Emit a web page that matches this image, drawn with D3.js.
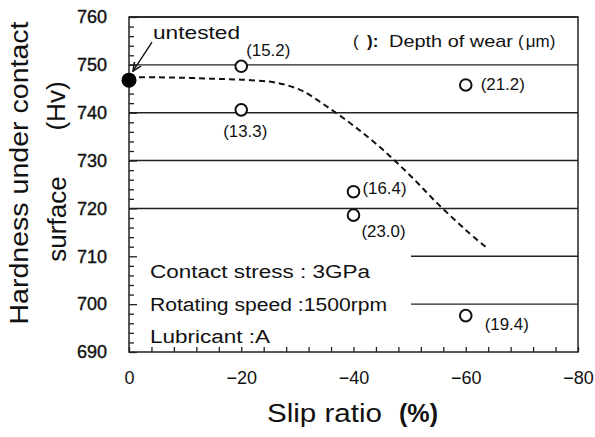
<!DOCTYPE html>
<html>
<head>
<meta charset="utf-8">
<script src="https://cdn.jsdelivr.net/npm/d3@7/dist/d3.min.js"></script>
<style>
  html, body { margin: 0; padding: 0; background: #fff; }
  svg { display: block; font-family: "Liberation Sans", Arial, sans-serif; }
</style>
</head>
<body>
<svg id="chart" width="595" height="437"></svg>
<script>
// ---------------- data ----------------
const xTickValues = [0, -20, -40, -60, -80];
const yTickValues = [690, 700, 710, 720, 730, 740, 750, 760];

// untested specimen
const untestedX = [0];
const untestedY = [746.8];

// tested specimens
const slipRatio = [-20, -20, -40, -40, -60, -60];
const hardness = [749.7, 740.6, 723.5, 718.6, 745.8, 697.6];
const wearDepth = ["(15.2)", "(13.3)", "(16.4)", "(23.0)", "(21.2)", "(19.4)"];

// dashed trend curve
const trendX = [0, -5, -10, -15, -20, -25, -28, -31, -35, -40, -45, -50, -55, -60, -64];
const trendY = [747.4, 747.4, 747.3, 747.1, 746.9, 746.5, 745.8, 744.5, 741.5, 737.3, 732.5, 727.0, 721.0, 715.5, 711.5];

const conditions = ["Contact stress : 3GPa", "Rotating speed :1500rpm", "Lubricant :A"];

// ---------------- layout ----------------
const L = 129, R = 578, T = 17, B = 352;
const svg = d3.select("#chart");
const x = d3.scaleLinear().domain([0, -80]).range([L, R]);
const y = d3.scaleLinear().domain([690, 760]).range([B, T]);

// label placement (dx, dy, anchor) per data label
const labelPlace = [
  [5, -10, "start"], [4, 27, "middle"], [9, 2, "start"],
  [8, 22, "start"], [15, 5, "start"], [19, 14, "start"]
];
const condWidths = [220, 237, 120];

// gridlines
svg.append("g").selectAll("line").data(yTickValues.filter(v => v > 690)).join("line")
  .attr("x1", L).attr("x2", R)
  .attr("y1", d => y(d)).attr("y2", d => y(d))
  .attr("stroke", "#222").attr("stroke-width", 1.4);

// text box (white) covering lower-left grid
svg.append("rect").attr("x", L + 1).attr("y", 244).attr("width", 411 - L - 1).attr("height", B - 244 - 1)
  .attr("fill", "#fff");

// frame
svg.append("rect").attr("x", L).attr("y", T).attr("width", R - L).attr("height", B - T)
  .attr("fill", "none").attr("stroke", "#222").attr("stroke-width", 1.5);

// inner ticks
const yMinor = d3.range(690, 761, 2);
svg.append("g").attr("transform", `translate(${L},0)`)
  .call(d3.axisLeft(y).tickValues(yMinor).tickSize(-5).tickFormat(""))
  .call(g => g.select(".domain").remove())
  .call(g => g.selectAll(".tick line").attr("stroke", "#222").attr("stroke-width", 1.3)
    .attr("x2", d => d % 10 === 0 ? 8 : 5));
const xMinor = d3.range(0, -81, -4);
svg.append("g").attr("transform", `translate(0,${B})`)
  .call(d3.axisBottom(x).tickValues(xMinor).tickSize(-5).tickFormat(""))
  .call(g => g.select(".domain").remove())
  .call(g => g.selectAll(".tick line").attr("stroke", "#222").attr("stroke-width", 1.3));

// tick labels
svg.append("g").attr("transform", `translate(${L},0)`)
  .call(d3.axisLeft(y).tickValues(yTickValues).tickSize(0).tickPadding(22))
  .call(g => g.select(".domain").remove())
  .call(g => g.selectAll("text").attr("font-size", 18).attr("fill", "#111")
    .attr("font-family", "Liberation Sans, Arial, sans-serif").attr("stroke", "#111").attr("stroke-width", 0.4));
svg.append("g").attr("transform", `translate(0,${B})`)
  .call(d3.axisBottom(x).tickValues(xTickValues).tickSize(0).tickPadding(19))
  .call(g => g.select(".domain").remove())
  .call(g => g.selectAll("text").attr("font-size", 18).attr("fill", "#111")
    .attr("font-family", "Liberation Sans, Arial, sans-serif"));

// trend curve
const line = d3.line().x((d, i) => x(trendX[i])).y(d => y(d)).curve(d3.curveCatmullRom);
svg.append("path").attr("d", line(trendY))
  .attr("fill", "none").attr("stroke", "#111").attr("stroke-width", 2)
  .attr("stroke-dasharray", "6,4");

// tested points
svg.append("g").selectAll("circle").data(hardness).join("circle")
  .attr("cx", (d, i) => x(slipRatio[i])).attr("cy", d => y(d)).attr("r", 5.8)
  .attr("fill", "#fff").attr("stroke", "#111").attr("stroke-width", 2);

svg.append("g").selectAll("text").data(wearDepth).join("text")
  .attr("x", (d, i) => x(slipRatio[i]) + labelPlace[i][0])
  .attr("y", (d, i) => y(hardness[i]) + labelPlace[i][1])
  .attr("text-anchor", (d, i) => labelPlace[i][2])
  .attr("font-size", 17).attr("fill", "#111")
  .attr("textLength", 44).attr("lengthAdjust", "spacingAndGlyphs").text(d => d);

// untested point
svg.append("g").selectAll("circle").data(untestedY).join("circle")
  .attr("cx", (d, i) => x(untestedX[i])).attr("cy", d => y(d)).attr("r", 7.5).attr("fill", "#000");

// arrow + label
const ux = x(untestedX[0]), uy = y(untestedY[0]);
svg.append("defs").append("marker").attr("id", "ah").attr("viewBox", "0 0 10 10")
  .attr("refX", 9).attr("refY", 5).attr("markerWidth", 7).attr("markerHeight", 7)
  .attr("orient", "auto").append("path").attr("d", "M0,1 L9,5 L0,9").attr("fill", "none")
  .attr("stroke", "#111").attr("stroke-width", 1.6);
svg.append("line").attr("x1", ux + 23).attr("y1", uy - 38).attr("x2", ux + 4).attr("y2", uy - 9)
  .attr("stroke", "#111").attr("stroke-width", 1.4).attr("marker-end", "url(#ah)");
svg.append("text").attr("x", ux + 24).attr("y", uy - 41).attr("font-size", 18)
  .attr("textLength", 87).attr("lengthAdjust", "spacingAndGlyphs").attr("fill", "#111").text("untested");

// legend note
const note = svg.append("text").attr("y", 47).attr("font-size", 17).attr("fill", "#111");
note.append("tspan").attr("x", 353).text("(");
note.append("tspan").attr("x", 367).attr("font-weight", "bold").text("):");
note.append("tspan").attr("x", 389).attr("textLength", 124).attr("lengthAdjust", "spacingAndGlyphs").text("Depth of wear");
note.append("tspan").attr("x", 518).text("(");
note.append("tspan").attr("dx", 2).text("μ");
note.append("tspan").text("m)");

// condition text
svg.append("g").selectAll("text").data(conditions).join("text")
  .attr("x", 150).attr("y", (d, i) => 278 + i * 32.5)
  .attr("font-size", 18).attr("fill", "#111")
  .attr("textLength", (d, i) => condWidths[i]).attr("lengthAdjust", "spacingAndGlyphs")
  .text(d => d);

// axis titles
svg.append("text").attr("x", 267).attr("y", 422).attr("font-size", 25).attr("fill", "#111")
  .attr("textLength", 115).attr("lengthAdjust", "spacingAndGlyphs").text("Slip ratio");
svg.append("text").attr("x", 399).attr("y", 422).attr("font-size", 25).attr("fill", "#111")
  .attr("font-weight", "bold").attr("textLength", 39).attr("lengthAdjust", "spacingAndGlyphs").text("(%)");

svg.append("text").attr("transform", "translate(28,173) rotate(-90)")
  .attr("text-anchor", "middle").attr("font-size", 26).attr("fill", "#111")
  .attr("textLength", 303).attr("lengthAdjust", "spacingAndGlyphs")
  .text("Hardness under contact");
svg.append("text").attr("transform", "translate(66,219) rotate(-90)")
  .attr("text-anchor", "middle").attr("font-size", 26).attr("fill", "#111")
  .text("surface");
svg.append("text").attr("transform", "translate(65,106) rotate(-90)")
  .attr("text-anchor", "middle").attr("font-size", 26).attr("fill", "#111")
  .text("(Hv)");
</script>
</body>
</html>
